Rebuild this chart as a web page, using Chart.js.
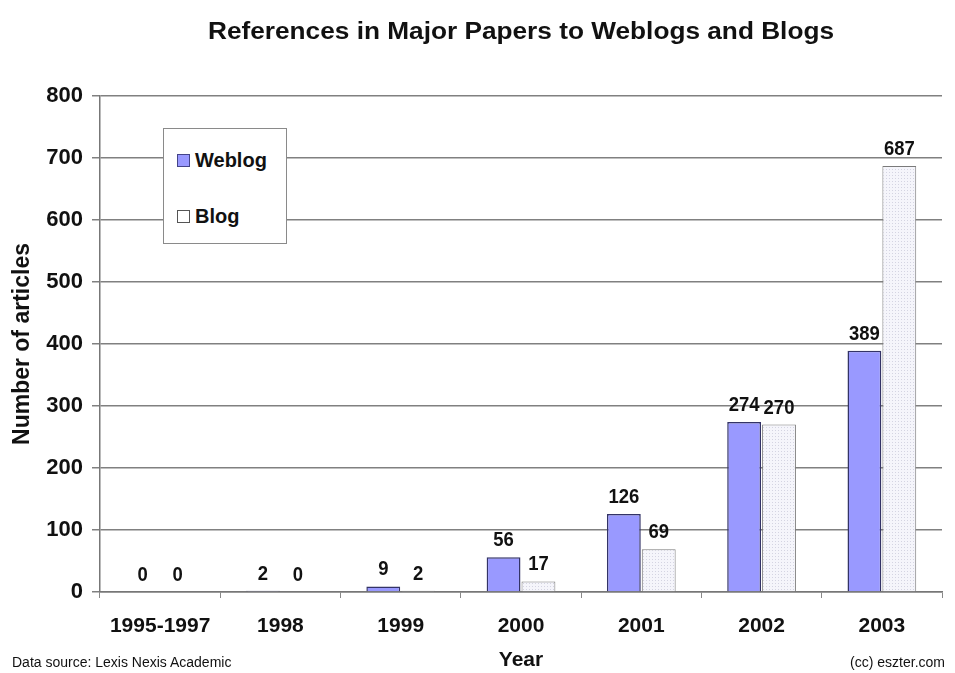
<!DOCTYPE html>
<html>
<head>
<meta charset="utf-8">
<script src="https://cdn.jsdelivr.net/npm/chart.js@4/dist/chart.umd.min.js"></script>
<style>
  body { margin: 0; background: #fff; }
  #wrap { position: relative; width: 955px; height: 673px; }
  #legend {
    position: absolute; left: 163px; top: 128px; width: 122px; height: 114px;
    background: #fff; border: 1.5px solid #8a8a8a;
    font: bold 20px "Liberation Sans", Arial, sans-serif; color: #111;
  }
  #legend .item { position: absolute; left: 13px; height: 22px; line-height: 22px; white-space: nowrap; }
  #legend .sw { display: inline-block; width: 11px; height: 11px; border: 1px solid #333; vertical-align: 0px; margin-right: 5px; }
  .foot { position: absolute; top: 654px; font: 14px "Liberation Sans", Arial, sans-serif; color: #111; }
</style>
</head>
<body>
<div id="wrap">
  <canvas id="myChart" width="955" height="673"></canvas>
  <div id="legend">
    <div class="item" style="top:20px"><span class="sw" style="background:#9999ff;border-color:#444488"></span>Weblog</div>
    <div class="item" style="top:76px"><span class="sw" style="background:#fff;border-color:#555"></span>Blog</div>
  </div>
  <div class="foot" style="left:12px">Data source: Lexis Nexis Academic</div>
  <div class="foot" style="right:10px">(cc) eszter.com</div>
</div>
<script>
var years = ["1995-1997", "1998", "1999", "2000", "2001", "2002", "2003"];
var weblog = [0, 2, 9, 56, 126, 274, 389];
var blog = [0, 0, 2, 17, 69, 270, 687];
var yTicks = [0, 100, 200, 300, 400, 500, 600, 700, 800];

var FONT = '"Liberation Sans", Arial, sans-serif';

// dotted fill for the Blog bars
var pc = document.createElement('canvas');
pc.width = 3; pc.height = 3;
var px = pc.getContext('2d');
px.fillStyle = '#f5f5fb';
px.fillRect(0, 0, 3, 3);
px.fillStyle = '#d4d4e2';
px.fillRect(1, 1, 1, 1);
var blogPattern = px.createPattern(pc, 'repeat');

var labelsPlugin = {
  id: 'barLabels',
  afterDatasetsDraw: function (chart) {
    var ctx = chart.ctx;
    ctx.save();
    ctx.font = 'bold 21px ' + FONT;
    ctx.fillStyle = '#111';
    ctx.textAlign = 'center';
    ctx.textBaseline = 'alphabetic';
    chart.data.datasets.forEach(function (ds, i) {
      chart.getDatasetMeta(i).data.forEach(function (bar, j) {
        // slightly condensed digits, like the original
        ctx.save();
        ctx.translate(bar.x, bar.y - 11);
        ctx.scale(0.88, 1);
        ctx.fillText(ds.data[j], 0, 0);
        ctx.restore();
      });
    });
    // chart title, centred over the plot area (slightly widened like the original)
    var a = chart.chartArea;
    ctx.font = 'bold 23px ' + FONT;
    ctx.textBaseline = 'middle';
    ctx.translate((a.left + a.right) / 2, 33);
    ctx.scale(1.14, 1);
    ctx.fillText('References in Major Papers to Weblogs and Blogs', 0, 0);
    ctx.restore();
  }
};

var ctx = document.getElementById("myChart");
var myChart = new Chart(ctx, {
  type: 'bar',
  data: {
    labels: years,
    datasets: [
      {
        label: 'Weblog',
        backgroundColor: '#9999ff',
        borderColor: '#333366',
        borderWidth: 1.5,
        data: weblog
      },
      {
        label: 'Blog',
        backgroundColor: blogPattern,
        borderColor: '#7a7a7a',
        borderWidth: 1,
        data: blog
      }
    ]
  },
  options: {
    responsive: false,
    animation: false,
    layout: { padding: { top: 96, right: 13, left: 0, bottom: 0 } },
    categoryPercentage: 0.58,
    barPercentage: 0.97,
    plugins: {
      legend: { display: false },
      title: { display: false },
      tooltip: { enabled: false }
    },
    scales: {
      x: {
        afterFit: function (s) { s.height = 81; },
        grid: { drawOnChartArea: false, drawTicks: true, tickLength: 6, color: '#888', offset: true },
        border: { color: '#777', width: 1.5 },
        ticks: { color: '#111', font: { family: FONT, size: 21, weight: 'bold' }, padding: 16, maxRotation: 0 },
        title: { display: true, text: 'Year', color: '#111', font: { family: FONT, size: 21, weight: 'bold' }, padding: { top: 4, bottom: 0 } }
      },
      y: {
        min: 0,
        max: 800,
        afterFit: function (s) { s.width = 100; },
        afterBuildTicks: function (s) { s.ticks = yTicks.map(function (v) { return { value: v }; }); },
        grid: { color: '#808080', lineWidth: 1.5, tickLength: 8 },
        border: { color: '#777', width: 1.5 },
        ticks: { color: '#111', font: { family: FONT, size: 22, weight: 'bold' }, padding: 9 },
        title: { display: true, text: 'Number of articles', color: '#111', font: { family: FONT, size: 23, weight: 'bold' }, padding: { top: 9, bottom: 8 } }
      }
    }
  },
  plugins: [labelsPlugin]
});
</script>
</body>
</html>
